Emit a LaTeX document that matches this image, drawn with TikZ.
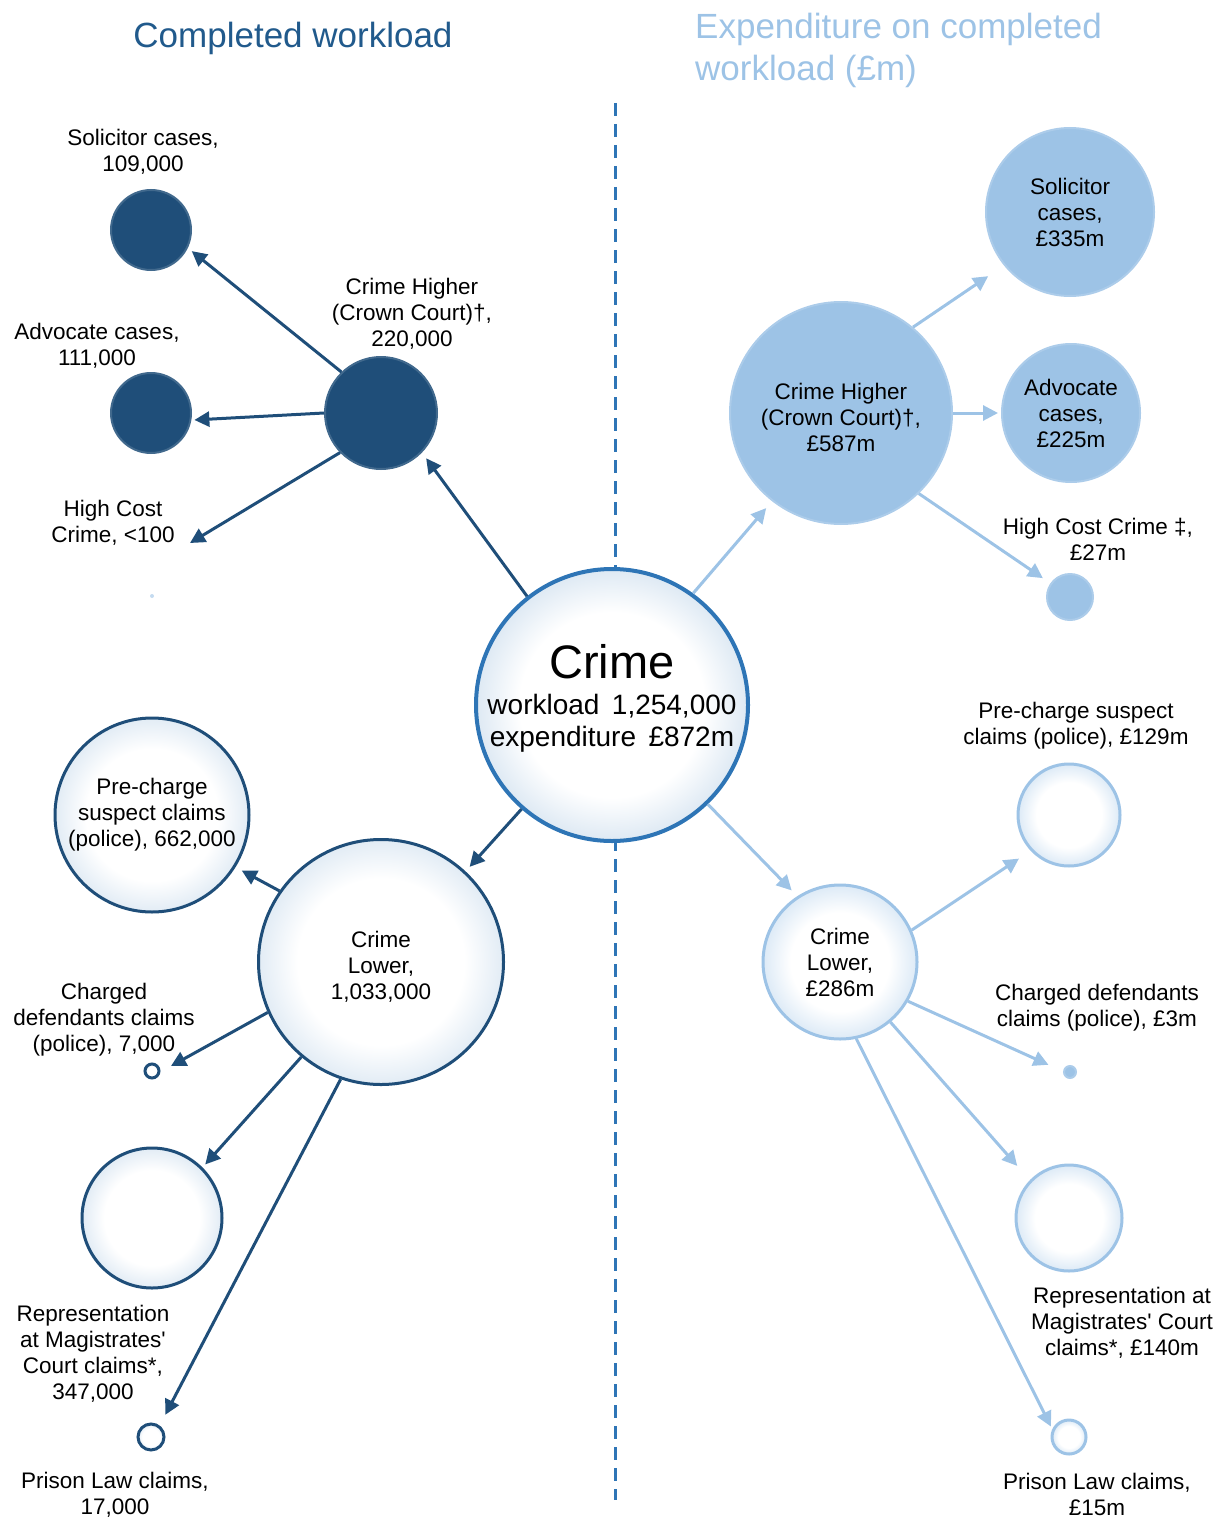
\documentclass[tikz,border=0pt]{standalone}
\usepackage{fontspec}
\setmainfont{Liberation Sans}
\usetikzlibrary{arrows.meta, positioning}

\definecolor{navy}{HTML}{1F4E79}
\definecolor{titlenavy}{HTML}{215A8C}
\definecolor{midblue}{HTML}{2E75B6}
\definecolor{paleblue}{HTML}{9DC3E6}

% white bubbles with a tinted rim
\pgfdeclareradialshading{darkrim}{\pgfpoint{0bp}{0bp}}{color(0bp)=(white); color(17bp)=(white); color(25bp)=(midblue!14!white); color(50bp)=(midblue!14!white)}
\pgfdeclareradialshading{midrim}{\pgfpoint{0bp}{0bp}}{color(0bp)=(white); color(17bp)=(white); color(25bp)=(midblue!16!white); color(50bp)=(midblue!16!white)}
\pgfdeclareradialshading{palerim}{\pgfpoint{0bp}{0bp}}{color(0bp)=(white); color(16bp)=(white); color(25bp)=(paleblue!35!white); color(50bp)=(paleblue!35!white)}

\begin{document}
\begin{tikzpicture}[x=1pt, y=-1pt,
  darkball/.style={circle, inner sep=0pt, minimum size=#1, fill=navy, draw=navy!85!white, line width=2pt},
  darkring/.style={circle, inner sep=0pt, minimum size=#1, shading=darkrim, draw=navy, line width=3pt},
  paleball/.style={circle, inner sep=0pt, minimum size=#1, fill=paleblue, draw=paleblue!85!white, line width=2pt},
  palering/.style={circle, inner sep=0pt, minimum size=#1, shading=palerim, draw=paleblue, line width=3pt},
  lbl/.style={font=\fontsize{22.5}{26}\selectfont, align=center, inner sep=0pt},
  darr/.style={navy, line width=3pt, -{Triangle[length=15pt,width=15pt]}},
  parr/.style={paleblue, line width=3pt, -{Triangle[length=15pt,width=15pt]}}]
\useasboundingbox (0,0) rectangle (1220,1517);

% titles
\node [font=\fontsize{35}{42}\selectfont, text=titlenavy] (lefttitle) at (293,38) {Completed workload};
\node [font=\fontsize{35}{42}\selectfont, text=paleblue, align=left, anchor=north west, inner sep=0pt] (righttitle) at (695,13) {Expenditure on completed\\workload (£m)};

% divider
\coordinate (dtop) at (615,103);
\coordinate (dbot) at (615,1500);
\draw [midblue, line width=3pt, dash pattern=on 13pt off 8pt] (dtop) -- (dbot);

% centre
\node [circle, inner sep=0pt, minimum size=272, shading=midrim, draw=midblue, line width=4pt] (crime) at (612,705) {};
\node [align=center, inner sep=0pt, font=\fontsize{28}{32}\selectfont] (crimetxt) at (612,698)
  {{\fontsize{47}{50}\selectfont Crime}\\[4pt]workload\ \,1,254,000\\expenditure\ \,£872m};

% workload, crime higher
\node [darkball=112] (chl) at (381,413) {};
\node [darkball=80] (soll) at (151,230) {};
\node [darkball=80] (advl) at (151,413) {};
\node [circle, inner sep=0pt, minimum size=4, fill=paleblue!60!white] (hcl) at (152,596) {};
\coordinate (hcend) at (190,543);
\node [lbl] (chltxt) at (412,314) {Crime Higher\\(Crown Court)†,\\220,000};
\node [lbl] (solltxt) at (143,152) {Solicitor cases,\\109,000};
\node [lbl] (advltxt) at (97,346) {Advocate cases,\\111,000};
\node [lbl] (hcltxt) at (113,523) {High Cost\\Crime, <100};

% workload, crime lower
\node [darkring=245, lbl] (cll) at (381,962) {\rule{0pt}{26pt}Crime\\Lower,\\1,033,000};
\node [darkring=194, lbl] (prel) at (152,815) {Pre-charge\\suspect claims\\(police), 662,000};
\node [darkring=14] (chgl) at (152,1071) {};
\node [darkring=140] (repl) at (152,1218) {};
\node [darkring=26] (prisl) at (151,1437) {};
\node [lbl] (chgltxt) at (104,1020) {Charged\\defendants claims\\(police), 7,000};
\node [lbl] (repltxt) at (93,1354) {Representation\\at Magistrates\textquotesingle\\Court claims*,\\347,000};
\node [lbl] (prisltxt) at (115,1495) {Prison Law claims,\\17,000};

% expenditure, crime higher
\node [paleball=222, lbl] (chr) at (841,413) {\rule{0pt}{25pt}Crime Higher\\(Crown Court)†,\\£587m};
\node [paleball=168, lbl] (solr) at (1070,212) {Solicitor\\cases,\\£335m};
\node [paleball=138, lbl] (advr) at (1071,413) {Advocate\\cases,\\£225m};
\node [paleball=46] (hcr) at (1070,597) {};
\node [lbl] (hcrtxt) at (1098,539) {High Cost Crime ‡,\\£27m};

% expenditure, crime lower
\node [palering=154, lbl] (clr) at (840,962) {Crime\\Lower,\\£286m};
\node [palering=102] (prer) at (1069,815) {};
\node [paleball=12] (chgr) at (1070,1072) {};
\node [palering=106] (repr) at (1069,1218) {};
\node [palering=34] (prisr) at (1069,1437) {};
\node [lbl] (prertxt) at (1076,726) {Pre-charge suspect\\claims (police), £129m};
\node [lbl] (chgrtxt) at (1097,1008) {Charged defendants\\claims (police), £3m};
\node [lbl] (reprtxt) at (1122,1323) {Representation at\\Magistrates\textquotesingle{} Court\\claims*, £140m};
\node [lbl] (prisrtxt) at (1097,1494) {Prison Law claims,\\£15m};

% workload arrows
\draw [darr, shorten >=7pt] (crime.128) -- (chl.316);
\draw [darr, shorten >=5pt] (chl.134) -- (soll.334);
\draw [darr, shorten >=3pt] (chl.180) -- (advl.350);
\draw [darr] (chl.224) -- (hcend);
\draw [darr, shorten >=6pt] (crime.229) -- (cll.47);
\draw [darr, shorten >=7pt] (cll.145) -- (prel.328);
\draw [darr, shorten >=12pt] (cll.204) -- (chgl.354);
\draw [darr, shorten >=4pt] (cll.230) -- (repl.45);
\draw [darr, shorten >=12pt] (cll.251) -- (prisl.53);

% expenditure arrows
\draw [parr, shorten >=9pt] (crime.54) -- (chr.232);
\draw [parr, shorten >=19pt] (chr.50) -- (solr.219);
\draw [parr, shorten >=3pt] (chr.0) -- (advr.180);
\draw [parr, shorten >=9pt] (chr.314) -- (hcr.145);
\draw [parr, shorten >=8pt] (crime.314) -- (clr.123);
\draw [parr, shorten >=14pt] (clr.24) -- (prer.223);
\draw [parr, shorten >=16pt] (clr.330) -- (chgr.175);
\draw [parr, shorten >=19pt] (clr.310) -- (repr.136);
\draw [parr, shorten >=3pt] (clr.282) -- (prisr.155);
\end{tikzpicture}
\end{document}
